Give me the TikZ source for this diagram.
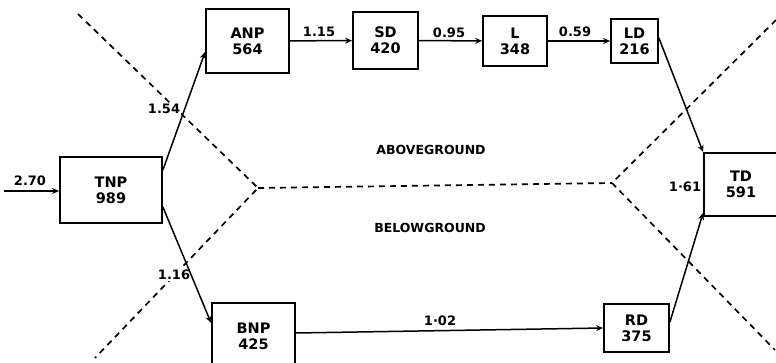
\documentclass[tikz,border=0pt]{standalone}
\usepackage{fontspec}
\setmainfont{DejaVu Sans}
\usetikzlibrary{arrows.meta}

\begin{document}
\begin{tikzpicture}[x=1pt, y=-1pt,
    box/.style={draw, line width=1.8pt, align=center, inner sep=0pt, font=\bfseries\fontsize{14.5}{16}\selectfont},
    arrow/.style={-{Stealth[length=7pt, width=6pt]}, line width=1.5pt},
    rate/.style={fill=white, font=\bfseries\fontsize{13}{15}\selectfont, inner sep=1pt},
    zone/.style={font=\bfseries\fontsize{12.5}{14}\selectfont, inner sep=0pt},
    border/.style={dash pattern=on 6pt off 5pt, line width=1.7pt}
  ]
  \useasboundingbox (0,0) rectangle (776,363);
  \clip (0,0) rectangle (776,363);

  \coordinate (va) at (258,188);
  \coordinate (vb) at (612,183);
  \draw[border] (78,14) -- (va) -- (95,358);
  \draw[border] (va) -- (vb);
  \draw[border] (776,20) -- (vb) -- (775,350);

  \node[rate] (r0) at (30,181) {2.70};
  \node[rate] (r1) at (164,109) {1.54};
  \node[rate] (r2) at (174,275) {1.16};
  \node[rate] (r3) at (319,32) {1.15};
  \node[rate] (r4) at (449,33) {0.95};
  \node[rate] (r5) at (575,32) {0.59};
  \node[rate] (r6) at (440,321) {1·02};
  \node[rate] (r7) at (685,187) {1·61};

  \node[zone] (above) at (431,150) {ABOVEGROUND};
  \node[zone] (below) at (430,228) {BELOWGROUND};

  \node[box, minimum width=102pt, minimum height=66pt] (tnp) at (111,190) {TNP\\989};
  \node[box, minimum width=83pt, minimum height=64pt] (anp) at (247.5,41) {ANP\\564};
  \node[box, minimum width=65pt, minimum height=57pt] (sd) at (385.5,40.5) {SD\\420};
  \node[box, minimum width=64pt, minimum height=50pt] (l) at (515,41) {L\\348};
  \node[box, minimum width=47pt, minimum height=44pt] (ld) at (634.5,41) {LD\\216};
  \node[box, minimum width=74pt, minimum height=63pt] (td) at (741,184.5) {TD\\591};
  \node[box, minimum width=83pt, minimum height=66pt] (bnp) at (253.5,336) {BNP\\425};
  \node[box, minimum width=65pt, minimum height=48pt] (rd) at (636.5,328) {RD\\375};

  \coordinate (in) at (4,191);
  \draw[arrow] (in) -- (tnp.west |- in);
  \draw[arrow] ([yshift=20pt]tnp.east) -- ([yshift=-11pt]anp.west);
  \draw[arrow] ([yshift=-17pt]tnp.east) -- ([yshift=13pt]bnp.west);
  \draw[arrow] (anp) -- (sd);
  \draw[arrow] (sd) -- (l);
  \draw[arrow] (l) -- (ld);
  \draw[arrow] ([yshift=3pt]ld.east) -- (td.north west);
  \draw[arrow] ([yshift=3pt]bnp.east) -- (rd.west);
  \draw[arrow] ([yshift=6pt]rd.east) -- ([yshift=4pt]td.south west);
\end{tikzpicture}
\end{document}
